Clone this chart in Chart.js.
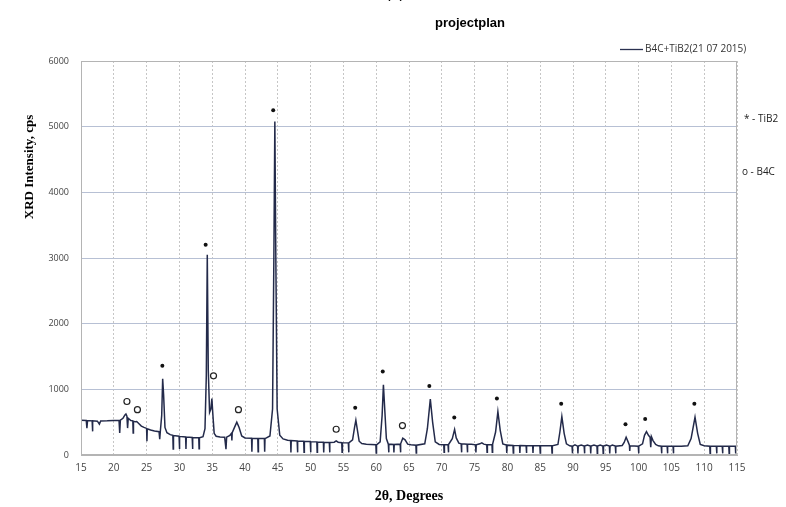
<!DOCTYPE html>
<html>
<head>
<meta charset="utf-8">
<script src="https://cdn.jsdelivr.net/npm/chart.js@4.4.1/dist/chart.umd.min.js"></script>
<style>
	body { margin: 0; background: #fff; }
	#wrap { width: 786px; height: 507px; position: relative; }
</style>
</head>
<body>
<div id="wrap"><canvas id="xrd" width="786" height="507"></canvas></div>
<script>
	// 2theta / intensity (baseline drop-outs included)
	const twoTheta = [
		15.0, 15.8, 15.9, 16.0, 16.7, 16.75, 16.8, 17.5, 17.8, 18.0, 19.0, 20.0, 20.8, 20.9, 21.0,
		21.4, 21.7, 21.85, 22.0, 22.1, 22.2, 22.6, 22.9, 22.95, 23.0, 23.3, 23.5, 23.8, 24.2, 24.6,
		25.0, 25.05, 25.1, 25.6, 26.2, 26.9, 27.0, 27.1, 27.3, 27.45, 27.6, 27.8, 28.1, 28.6,
		29.0, 29.05, 29.1, 29.95, 30.0, 30.05, 30.95, 31.0, 31.05, 31.95, 32.0, 32.05, 32.95, 33.0, 33.05,
		33.6, 33.9, 34.1, 34.25, 34.4, 34.6, 34.8, 34.95, 35.1, 35.3, 35.6, 36.2, 36.9, 37.1, 37.2,
		37.7, 37.95, 38.0, 38.05, 38.4, 38.75, 39.1, 39.5, 40.0,
		41.0, 41.05, 41.1, 41.95, 42.0, 42.05, 42.95, 43.0, 43.05,
		43.8, 44.2, 44.4, 44.55, 44.7, 44.9, 45.3, 45.8, 46.5,
		46.95, 47.0, 47.05, 47.95, 48.0, 48.05, 48.95, 49.0, 49.05, 49.95, 50.0, 50.05,
		50.95, 51.0, 51.05, 51.95, 52.0, 52.05, 52.85, 52.9, 52.95, 53.6, 53.9, 54.2,
		54.75, 54.8, 54.85, 55.75, 55.8, 55.85, 56.4, 56.7, 56.9, 57.1, 57.4, 57.8, 58.5, 59.2,
		59.95, 60.0, 60.05, 60.6, 60.9, 61.1, 61.3, 61.55, 61.85, 61.9, 61.95, 62.65, 62.7, 62.75,
		63.65, 63.7, 63.75, 64.05, 64.4, 64.8, 65.3, 66.05, 66.1, 66.15, 67.4, 67.8, 68.25, 68.6,
		69.0, 69.6, 70.3, 70.35, 70.4, 70.95, 71.0, 71.05, 71.6, 71.95, 72.2, 72.6, 72.95, 73.0, 73.05,
		73.85, 73.9, 73.95, 74.5, 75.15, 75.2, 75.25, 75.8, 76.1, 76.4, 76.85, 76.9, 76.95,
		77.65, 77.7, 77.75, 78.2, 78.55, 78.9, 79.3, 79.85, 79.9, 79.95, 80.85, 80.9, 80.95,
		81.85, 81.9, 81.95, 82.85, 82.9, 82.95, 83.85, 83.9, 83.95, 84.95, 85.0, 85.05, 86.0,
		86.75, 86.8, 86.85, 87.7, 88.0, 88.3, 88.65, 89.0, 89.5, 89.85, 89.9, 89.95, 90.3,
		90.7, 90.75, 90.8, 91.25, 91.7, 91.75, 91.8, 92.2, 92.65, 92.7, 92.75, 93.2, 93.65, 93.7, 93.75,
		94.15, 94.55, 94.6, 94.65, 95.1, 95.55, 95.6, 95.65, 96.0, 96.45, 96.5, 96.55, 97.5, 97.8,
		98.1, 98.4, 98.6, 98.65, 98.7, 99.95, 100.0, 100.05, 100.6, 100.9, 101.2, 101.5, 101.75,
		101.85, 101.95, 102.2, 102.6, 103.0, 103.45, 103.5, 103.55, 104.35, 104.4, 104.45,
		105.25, 105.3, 105.35, 106.5, 107.5, 108.0, 108.6, 109.0, 109.4, 110.0,
		110.85, 110.9, 110.95, 111.85, 111.9, 111.95, 112.75, 112.8, 112.85, 113.75, 113.8, 113.85,
		114.75, 114.8, 114.85, 115.0
	];
	const intensity = [
		530, 525, 410, 525, 520, 360, 520, 515, 470, 518, 520, 525, 525, 335, 530,
		560, 610, 625, 590, 410, 560, 525, 520, 335, 515, 505, 510, 480, 440, 420,
		405, 210, 400, 380, 365, 355, 240, 370, 600, 1160, 900, 420, 340, 310,
		300, 90, 295, 285, 90, 283, 275, 90, 273, 268, 90, 265, 262, 95, 262,
		280, 400, 1200, 3050, 1300, 650, 700, 860, 620, 330, 285, 275, 270, 90, 272,
		300, 330, 220, 340, 420, 500, 420, 290, 260,
		255, 50, 255, 252, 50, 252, 250, 50, 250,
		290, 700, 3000, 5080, 3000, 700, 300, 245, 225,
		220, 40, 220, 215, 40, 213, 210, 40, 208, 205, 40, 203,
		200, 40, 198, 195, 40, 193, 190, 40, 190, 195, 215, 195,
		188, 40, 188, 185, 40, 185, 230, 420, 530, 400, 210, 175, 165, 160,
		155, 30, 155, 200, 600, 1070, 700, 250, 165, 40, 165, 160, 40, 160,
		165, 40, 170, 255, 230, 165, 155, 150, 30, 150, 170, 400, 850, 500,
		200, 160, 155, 40, 155, 155, 40, 160, 250, 390, 260, 180, 170, 40, 170,
		165, 40, 165, 165, 155, 40, 155, 170, 185, 165, 155, 40, 155,
		160, 40, 165, 350, 660, 380, 170, 150, 30, 150, 145, 30, 145,
		143, 30, 143, 142, 30, 142, 140, 30, 140, 140, 30, 140, 140,
		140, 30, 140, 160, 350, 585, 330, 170, 140, 135, 25, 135, 155,
		135, 25, 135, 150, 135, 25, 135, 150, 135, 25, 135, 150, 135, 25, 135,
		150, 135, 25, 135, 150, 135, 25, 135, 150, 135, 25, 135, 145, 190,
		270, 200, 150, 60, 140, 135, 25, 135, 170, 300, 355, 300, 270,
		120, 280, 220, 160, 140, 135, 25, 135, 135, 25, 135,
		135, 25, 135, 135, 140, 250, 575, 330, 160, 140,
		135, 25, 135, 135, 25, 135, 135, 25, 135, 135, 25, 135,
		135, 25, 135, 135
	];

	// peak markers
	const tib2X = [27.4, 34.0, 44.3, 56.8, 61.0, 68.1, 71.9, 78.4, 88.2, 98.0, 101.0, 108.5];
	const tib2Y = [1360, 3200, 5250, 720, 1270, 1050, 570, 860, 780, 470, 550, 780];
	const b4cX = [22.0, 23.6, 35.2, 39.0, 53.9, 64.0];
	const b4cY = [815, 690, 1205, 690, 392, 448];

	const xTicks = { min: 15, max: 115, step: 5 };
	const yTicks = { min: 0, max: 6000, step: 1000 };

	const pts = (xs, ys) => xs.map((x, i) => ({ x: x, y: ys[i] }));

	const overlay = {
		id: "overlay",
		afterDraw(chart) {
			const ctx = chart.ctx;
			const a = chart.chartArea;
			ctx.save();
			ctx.strokeStyle = "#b4b4b4";
			ctx.lineWidth = 1;
			ctx.strokeRect(a.left + 0.5, a.top + 0.5, a.width - 1, a.height - 1);

			ctx.fillStyle = "#000";
			ctx.textAlign = "center";
			ctx.textBaseline = "middle";
			ctx.font = "bold 13px 'Liberation Sans', Arial, sans-serif";
			ctx.fillText("projectplan", 470, 23);
			ctx.font = "16px 'Liberation Sans', Arial, sans-serif";
			ctx.fillText("(a)", 395, -6);

			// legend
			ctx.strokeStyle = "#2a3150";
			ctx.lineWidth = 1.3;
			ctx.beginPath();
			ctx.moveTo(620, 49.5);
			ctx.lineTo(643, 49.5);
			ctx.stroke();
			ctx.fillStyle = "#333";
			ctx.textAlign = "left";
			ctx.font = "10px 'Open Sans', sans-serif";
			ctx.fillText("B4C+TiB2(21 07 2015)", 645, 49);

			// phase key
			ctx.font = "10px 'Open Sans', sans-serif";
			ctx.fillStyle = "#222";
			ctx.fillText("* - TiB2", 744, 119);
			ctx.fillText("o - B4C", 742, 172);

			// y axis title
			ctx.translate(30, 167);
			ctx.rotate(-Math.PI / 2);
			ctx.textAlign = "center";
			ctx.fillStyle = "#000";
			ctx.font = "bold 13px 'Liberation Serif', 'Times New Roman', serif";
			ctx.fillText("XRD Intensity, cps", 0, 0);
			ctx.restore();
		},
	};

	const chart = new Chart(document.getElementById("xrd").getContext("2d"), {
		type: "line",
		data: {
			datasets: [
				{
					label: "B4C+TiB2(21 07 2015)",
					data: pts(twoTheta, intensity),
					borderColor: "#232a4a",
					borderWidth: 1.5,
					pointRadius: 0,
					tension: 0,
					fill: false,
				},
				{
					type: "scatter",
					label: "TiB2",
					data: pts(tib2X, tib2Y),
					pointStyle: "circle",
					pointRadius: 2,
					backgroundColor: "#111",
					borderColor: "#111",
					borderWidth: 0,
				},
				{
					type: "scatter",
					label: "B4C",
					data: pts(b4cX, b4cY),
					pointStyle: "circle",
					pointRadius: 3,
					backgroundColor: "#fff",
					borderColor: "#222",
					borderWidth: 1.2,
				},
			],
		},
		options: {
			responsive: false,
			animation: false,
			layout: { padding: { left: 0, right: 49, top: 61, bottom: 0 } },
			plugins: {
				legend: { display: false },
				title: { display: false },
				tooltip: { enabled: false },
			},
			scales: {
				x: {
					type: "linear",
					min: xTicks.min,
					max: xTicks.max,
					afterFit: (s) => { s.height = 52; },
					ticks: {
						stepSize: xTicks.step,
						padding: 7,
						color: "#444",
						font: { size: 10, family: "'Open Sans', sans-serif" },
						maxRotation: 0,
					},
					grid: { color: "#c6c6c6", drawTicks: false },
					border: { color: "#b4b4b4", dash: [2, 2] },
					title: {
						display: true,
						text: "2θ, Degrees",
						color: "#000",
						font: { size: 14, weight: "bold", family: "'Liberation Serif', 'Times New Roman', serif" },
						padding: { top: 0, bottom: 2 },
					},
				},
				y: {
					min: yTicks.min,
					max: yTicks.max,
					afterFit: (s) => { s.width = 81; },
					ticks: {
						stepSize: yTicks.step,
						padding: 12,
						color: "#444",
						font: { size: 9, family: "'Open Sans', sans-serif" },
						callback: (v) => String(v),
					},
					grid: { color: "#b7c0d4", drawTicks: false },
					border: { color: "#b4b4b4" },
				},
			},
		},
		plugins: [overlay],
	});
</script>
</body>
</html>
